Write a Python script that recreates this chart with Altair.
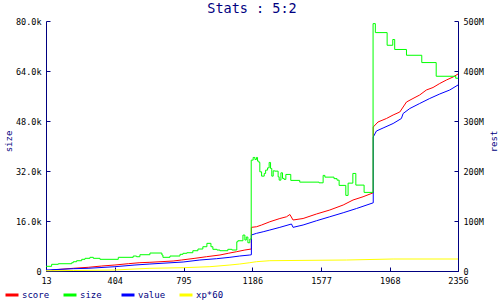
import altair as alt
import pandas as pd

# ---- data ----
x_ticks = [13, 404, 795, 1186, 1577, 1968, 2356]
size_ticks = [0, 16000, 32000, 48000, 64000, 80000]
rest_ticks = [0, 100, 200, 300, 400, 500]

series_names = ["score", "size", "value", "xp*60"]
series_colors = ["#ff0000", "#00ff00", "#0000ff", "#ffff00"]

size_x = [13, 45, 83, 159, 168, 187, 216, 235, 263, 282, 320, 424, 509, 528, 547, 604,
          672, 678, 718, 775, 792, 814, 848, 877, 905, 928, 951, 962, 985, 1002, 1047,
          1070, 1098, 1104, 1133, 1144, 1152, 1161, 1172, 1180, 1191, 1201, 1210, 1216,
          1224, 1229, 1239, 1254, 1262, 1273, 1282, 1290, 1297, 1305, 1314, 1333, 1339,
          1349, 1358, 1367, 1377, 1405, 1456, 1566, 1589, 1599, 1651, 1668, 1680, 1718,
          1731, 1758, 1775, 1822, 1873, 1886, 1953, 1985, 1996, 2063, 2150, 2232, 2343, 2356]
size_y = [1500, 2140, 2330, 2650, 2970, 3290, 3740, 4060, 4380, 4060, 3740, 4380, 4790, 4570,
          5210, 5750, 5110, 4380, 4790, 5340, 5660, 5850, 6490, 7030, 7770, 8850, 7770, 6940,
          6710, 6490, 6940, 6710, 9360, 9680, 11500, 9910, 10870, 9040, 10230, 35480, 36340,
          35700, 36340, 35160, 34740, 31740, 30360, 31220, 32280, 33010, 34740, 32820, 30360,
          32060, 31960, 30140, 29080, 31420, 29630, 29310, 30900, 28990, 28440, 28220, 30590,
          30040, 29560, 29080, 27390, 24190, 28120, 31220, 27490, 25150, 79160, 76290, 72230,
          74080, 70890, 69030, 66700, 62320, 61680, 61680]

# score / value / xp*60 in millions (right axis)
score_x = [45, 168, 253, 330, 405, 481, 547, 604, 736, 784, 860, 926, 1002, 1049, 1097, 1144,
           1181, 1181, 1210, 1239, 1286, 1343, 1381, 1400, 1418, 1475, 1551, 1627, 1703, 1759,
           1816, 1874, 1874, 1901, 1949, 1987, 2025, 2044, 2063, 2100, 2138, 2176, 2214, 2252,
           2290, 2328, 2356]
score_y = [2, 5.4, 7.4, 10, 12, 14.6, 16.6, 17.4, 20, 22, 25.4, 28.6, 32, 35.4, 38.6, 42,
           44, 87.3, 88.5, 92, 98.5, 105, 108.5, 113, 102, 105, 114, 122, 132, 142,
           148.5, 156.4, 288, 298, 305, 312, 318, 328, 338, 345, 352, 362, 367, 375,
           382, 388, 394]

value_x = [13, 168, 252, 405, 519, 604, 793, 888, 983, 1059, 1115, 1172, 1181, 1181, 1210,
           1248, 1286, 1343, 1409, 1418, 1475, 1551, 1627, 1703, 1779, 1874, 1874, 1892, 1930,
           1987, 2034, 2044, 2082, 2138, 2195, 2252, 2309, 2356]
value_y = [2, 4.6, 5.4, 8.6, 12, 14, 18, 22, 24.6, 27.4, 30, 32, 32.5, 72, 75.3,
           78.5, 82, 87.3, 94, 87.3, 92, 100.5, 108.5, 116.5, 125, 136.4, 268, 280, 286,
           295, 305, 315, 325, 335, 345, 354, 362, 372]

xp_x = [13, 168, 405, 519, 604, 793, 945, 1059, 1115, 1172, 1210, 1286, 1722, 1987, 2356]
xp_y = [0.5, 1.0, 2.0, 4.0, 5.4, 6.6, 8.6, 12, 14, 16.6, 18.6, 20.6, 22, 24, 24]


def frame(name, xs, ys):
    return pd.DataFrame({"series": name, "x": xs, "y": ys, "i": range(len(xs))})


size_df = frame("size", size_x, size_y)
rest_df = pd.concat([frame("score", score_x, score_y),
                     frame("value", value_x, value_y),
                     frame("xp*60", xp_x, xp_y)], ignore_index=True)

NAVY = "#000080"
FONT = "DejaVu Sans Mono"

color = alt.Color(
    "series:N",
    scale=alt.Scale(domain=series_names, range=series_colors),
    legend=alt.Legend(
        orient="none", legendX=-42, legendY=266, direction="horizontal",
        columns=4, gridAlign="all", columnPadding=7, title=None,
        symbolType="stroke", symbolSize=169, symbolStrokeWidth=3,
        labelFont=FONT, labelFontSize=9, labelColor=NAVY, labelOffset=2,
    ),
)

x_enc = alt.X(
    "x:Q",
    scale=alt.Scale(domain=[13, 2356], nice=False, zero=False),
    axis=alt.Axis(values=x_ticks, title=None, grid=False, labelFlush=False,
                  labelOverlap=False, format="d"),
)

left = alt.Chart(size_df).mark_line(interpolate="step-after", strokeWidth=1).encode(
    x=x_enc,
    y=alt.Y("y:Q", scale=alt.Scale(domain=[0, 80000], nice=False),
            axis=alt.Axis(orient="left", values=size_ticks, title="size", grid=False,
                          labelExpr="datum.value == 0 ? '0' : format(datum.value / 1000, '.1f') + 'k'",
                          titleX=-38, titleY=120, titleAngle=270, titleAlign="center",
                          titleBaseline="middle")),
    color=color,
    order="i:Q",
)

right = alt.Chart(rest_df).mark_line(strokeWidth=1).encode(
    x=x_enc,
    y=alt.Y("y:Q", scale=alt.Scale(domain=[0, 500], nice=False),
            axis=alt.Axis(orient="right", values=rest_ticks, title="rest", grid=False,
                          labelExpr="datum.value == 0 ? '0' : datum.value + 'M'",
                          titleX=35, titleY=120, titleAngle=270, titleAlign="center",
                          titleBaseline="middle")),
    color=color,
    order="i:Q",
)

chart = (
    alt.layer(right, left)
    .resolve_scale(y="independent")
    .properties(
        width=412, height=250,
        autosize=alt.AutoSizeParams(type="none"),
        padding={"left": 46, "top": 21, "right": 42, "bottom": 29},
        background="white",
        title=alt.TitleParams("Stats : 5:2", font=FONT, fontSize=13.5, color=NAVY,
                              fontWeight="normal", anchor="middle", offset=2),
    )
    .configure_view(stroke=None)
    .configure_axis(
        domainColor=NAVY, domainWidth=1, tickColor=NAVY, tickSize={"expr": "-4"},
        labelFont=FONT, labelFontSize=8.5, labelColor="#000000", labelPadding=9,
        titleFont=FONT, titleFontSize=9, titleColor=NAVY, titleFontWeight="normal",
    )
)

chart.save("out.html", embed_options={"renderer": "svg", "actions": False})
